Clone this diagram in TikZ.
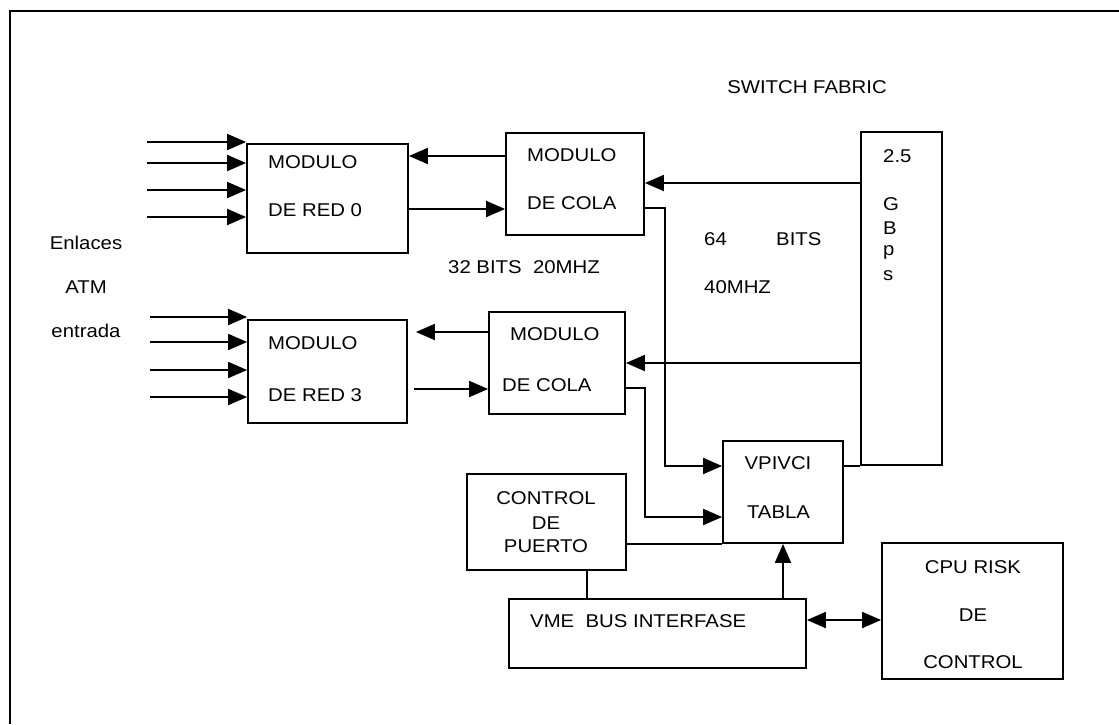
\documentclass[tikz,border=0pt]{standalone}
\usepackage{fontspec}
\setmainfont[FakeStretch=1.1]{Liberation Sans}
\usetikzlibrary{arrows.meta}
\begin{document}
\begin{tikzpicture}[x=1pt,y=-1pt,
  box/.style={draw, line width=1.8pt, inner sep=0pt, rectangle},
  conn/.style={line width=1.9pt},
  arr/.style={conn, -{Triangle[length=19pt,width=16pt]}},
  darr/.style={conn, {Triangle[length=19pt,width=16pt]}-{Triangle[length=19pt,width=16pt]}},
  txt/.style={anchor=base west, inner sep=0pt, font=\fontsize{18.5pt}{22pt}\selectfont},
  ctxt/.style={anchor=base, inner sep=0pt, font=\fontsize{18.5pt}{22pt}\selectfont}]
\useasboundingbox (0,0) rectangle (1119,724);
% outer frame
\draw[line width=1.8pt] (10,724) -- (10,11) -- (1119,11);

% boxes
\node[box, minimum width=161pt, minimum height=109pt] (red0) at (327.5,198.5) {};
\node[box, minimum width=138pt, minimum height=102pt] (cola0) at (575,184) {};
\node[box, minimum width=81pt, minimum height=333pt] (sf) at (901.5,298.5) {};
\node[box, minimum width=159pt, minimum height=103pt] (red3) at (327.5,371.5) {};
\node[box, minimum width=136pt, minimum height=102pt] (cola3) at (557,363) {};
\node[box, minimum width=120pt, minimum height=102pt] (vp) at (783,492) {};
\node[box, minimum width=159pt, minimum height=96pt] (ctrl) at (546.5,522) {};
\node[box, minimum width=297pt, minimum height=69pt] (vme) at (657.5,633.5) {};
\node[box, minimum width=181pt, minimum height=136pt] (cpu) at (972.5,611) {};

% texts
\node[ctxt] (sft) at (807,93.6) {SWITCH FABRIC};
\node[ctxt] (enl) at (86,249.6) {Enlaces};
\node[ctxt] (atm) at (86,293.6) {ATM};
\node[ctxt] (ent) at (86,337.6) {entrada};

\node[txt] (red0a) at (268,168.6) {MODULO};
\node[txt] (red0b) at (268,216.6) {DE RED 0};
\node[txt] (cola0a) at (527,161.6) {MODULO};
\node[txt] (cola0b) at (527,209.6) {DE COLA};
\node[txt] (red3a) at (268,349.6) {MODULO};
\node[txt] (red3b) at (268,401.6) {DE RED 3};
\node[txt] (cola3a) at (510,340.6) {MODULO};
\node[txt] (cola3b) at (502,391.6) {DE COLA};

\node[txt] (sf1) at (883,162) {2.5};
\node[txt] (sf2) at (883,210) {G};
\node[txt] (sf3) at (883,234) {B};
\node[txt] (sf4) at (883,255) {p};
\node[txt] (sf5) at (883,280) {s};

\node[txt] (b64) at (704,245.6) {64};
\node[txt] (bits) at (776,245.6) {BITS};
\node[txt] (mhz40) at (704,293.6) {40MHZ};
\node[txt] (b32) at (448,273.6) {32 BITS~~20MHZ};

\node[ctxt] (vpa) at (778,469.6) {VPIVCI};
\node[ctxt] (vpb) at (778.5,518.6) {TABLA};
\node[ctxt] (ctrla) at (546,504.6) {CONTROL};
\node[ctxt] (ctrlb) at (546,529.6) {DE};
\node[ctxt] (ctrlc) at (546,552.6) {PUERTO};
\node[txt] (vmet) at (530,627.6) {VME~~BUS INTERFASE};
\node[ctxt] (cpua) at (973,573.6) {CPU RISK};
\node[ctxt] (cpub) at (973,621.6) {DE};
\node[ctxt] (cpuc) at (973,668.6) {CONTROL};

% input links
\foreach \y/\n in {142/a,163/b,190/c,217/d}{
  \coordinate (in0\n) at (147,\y);
  \draw[arr] (in0\n) -- (in0\n -| red0.west);
}
\foreach \y/\n in {317/a,342/b,370/c,397/d}{
  \coordinate (in3\n) at (150,\y);
  \draw[arr] (in3\n) -- (in3\n -| red3.west);
}

% red0 <-> cola0
\draw[arr] (cola0.west |- 0,156) -- (red0.east |- 0,156);
\draw[arr] (red0.east |- 0,209) -- (cola0.west |- 0,209);
% switch fabric -> colas
\draw[arr] (sf.west |- 0,183) -- (cola0.east |- 0,183);
\draw[arr] (sf.west |- 0,363) -- (cola3.east |- 0,363);
% red3 <-> cola3
\draw[arr] (cola3.west |- 0,332) -- ([xshift=8pt]red3.east |- 0,332);
\draw[arr] ([xshift=6pt]red3.east |- 0,389) -- (cola3.west |- 0,389);
% colas -> VPIVCI
\draw[arr] (cola0.east |- 0,208) -- (665,208) -- (665,466) -- (vp.west |- 0,466);
\draw[arr] (cola3.east |- 0,388) -- (645,388) -- (645,517) -- (vp.west |- 0,517);
% VPIVCI -- switch fabric
\draw[conn] (vp.east |- sf.south west) -- (sf.south west);
% control -- VPIVCI
\draw[conn] (ctrl.east |- vp.south west) -- (vp.south west);
% control -- VME
\draw[conn] (587,0 |- ctrl.south) -- (587,0 |- vme.north);
% VME -> VPIVCI
\draw[arr] (vp.south |- vme.north) -- (vp.south);
% VME <-> CPU
\draw[darr] (vme.east |- 0,620) -- (cpu.west |- 0,620);
\end{tikzpicture}
\end{document}
